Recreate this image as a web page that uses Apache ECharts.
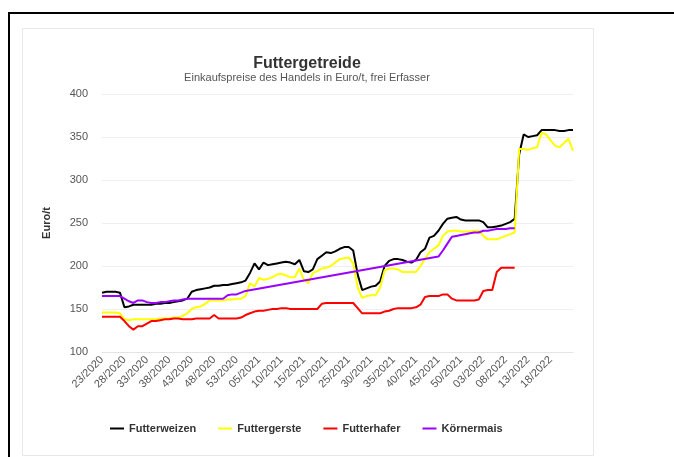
<!DOCTYPE html>
<html>
<head>
<meta charset="utf-8">
<script src="https://cdn.jsdelivr.net/npm/echarts@6/dist/echarts.min.js"></script>
<style>
html,body{margin:0;padding:0;background:#fff;}
#chart{width:674px;height:457px;}
</style>
</head>
<body>
<div id="chart"></div>
<script>
// Categories: calendar weeks 23/2020 .. 23/2022
var weeks = [];
(function(){
  function add(w, y){ weeks.push((w < 10 ? '0' + w : '' + w) + '/' + y); }
  for (var w = 23; w <= 53; w++) add(w, 2020);
  for (var w2 = 1; w2 <= 52; w2++) add(w2, 2021);
  for (var w3 = 1; w3 <= 23; w3++) add(w3, 2022);
})();

// Tick labels shown on the x axis
var xTickLabels = ['23/2020','28/2020','33/2020','38/2020','43/2020','48/2020','53/2020',
  '05/2021','10/2021','15/2021','20/2021','25/2021','30/2021','35/2021','40/2021','45/2021','50/2021',
  '03/2022','08/2022','13/2022','18/2022'];

var seriesNames = ['Futterweizen', 'Futtergerste', 'Futterhafer', 'Körnermais'];

var futterweizen = [169,170,170,170,169,152,153,155,155,155,155,155,156,156,157,157,158,159,160,162,
170,172,173,174,175,177,177,178,178,179,180,181,183,192,203,196,204,201,202,203,
204,205,204,202,207,194,193,196,208,212,216,215,217,220,222,222,218,190,172,174,
176,177,182,200,206,208,208,207,205,204,207,216,220,233,235,241,249,255,256,257,
254,253,253,253,253,251,245,245,246,247,249,251,255,330,353,350,351,352,358,358,
358,358,357,357,358,358];

var futtergerste = [146,146,146,146,145,138,137,138,138,138,138,138,138,139,139,139,140,140,142,145,
150,152,153,156,160,160,160,160,161,161,162,162,165,180,176,186,184,185,187,190,
191,189,187,187,197,184,180,192,194,197,198,200,204,208,209,210,203,175,163,165,
166,166,175,195,197,197,196,193,193,193,193,200,208,216,220,224,235,240,241,241,
240,240,240,241,241,235,231,231,231,233,235,237,239,336,336,335,337,338,355,353,
346,340,338,343,348,334];

var futterhafer = [141,141,141,141,141,136,130,126,130,130,133,136,136,137,138,138,139,139,138,138,
138,139,139,139,139,143,139,139,139,139,139,140,143,145,147,148,148,149,150,150,
151,151,150,150,150,150,150,150,150,156,157,157,157,157,157,157,157,151,145,145,
145,145,145,147,148,150,151,151,151,151,152,155,164,165,165,165,167,167,162,160,
160,160,160,160,161,171,172,172,193,198,198,198,198,null,null,null,null,null,null,null,
null,null,null,null,null,null];

var koernermais = [165,165,165,165,165,162,159,157,160,160,158,157,157,158,158,159,160,160,161,162,
162,162,162,162,162,162,162,162,166,167,167,169,171,null,null,null,null,null,null,null,
null,null,null,null,null,null,null,null,null,null,null,null,null,null,null,null,null,null,null,null,
null,null,null,null,null,null,null,null,null,null,null,null,null,null,null,211,218,226,234,235,
236,237,238,239,239,241,241,242,243,243,243,244,244,null,null,null,null,null,null,null,
null,null,null,null,null,null];

var yTicks = {min: 100, max: 400, interval: 50};
var colors = ['#000000', '#ffff00', '#ff0000', '#9900ff'];
var dataSets = [futterweizen, futtergerste, futterhafer, koernermais];
var FONT = 'Liberation Sans, Arial, sans-serif';

var chart = echarts.init(document.getElementById('chart'), null, {renderer: 'canvas'});
chart.setOption({
  animation: false,
  backgroundColor: '#ffffff',
  color: colors,
  graphic: [
    {type: 'line', shape: {x1: 8, y1: 13, x2: 674, y2: 13}, style: {stroke: '#000', lineWidth: 2}, z: 0},
    {type: 'line', shape: {x1: 9, y1: 12, x2: 9, y2: 457}, style: {stroke: '#000', lineWidth: 2}, z: 0},
    {type: 'rect', shape: {x: 22.5, y: 28.5, width: 571, height: 427}, style: {fill: 'none', stroke: '#e8e8e8', lineWidth: 1}, z: 0}
  ],
  title: {
    text: 'Futtergetreide',
    subtext: 'Einkaufspreise des Handels in Euro/t, frei Erfasser',
    left: 302,
    top: 51,
    textAlign: 'center',
    itemGap: 0,
    textStyle: {fontFamily: FONT, fontSize: 16, fontWeight: 'bold', color: '#333'},
    subtextStyle: {fontFamily: FONT, fontSize: 11, color: '#555'}
  },
  legend: {
    data: seriesNames,
    left: 105,
    top: 418,
    icon: 'rect',
    itemWidth: 14,
    itemHeight: 2,
    itemGap: 22,
    textStyle: {fontFamily: FONT, fontSize: 11, fontWeight: 'bold', color: '#333'}
  },
  grid: {left: 102, right: 101, top: 94, bottom: 105, containLabel: false},
  xAxis: {
    type: 'category',
    data: weeks,
    boundaryGap: false,
    axisLine: {show: true, lineStyle: {color: '#e4e4e4'}},
    axisTick: {show: false},
    splitLine: {show: false},
    axisLabel: {
      interval: function(idx, val){ return xTickLabels.indexOf(val) >= 0; },
      rotate: 45,
      margin: 6,
      fontSize: 11,
      color: '#555',
      fontFamily: FONT
    }
  },
  yAxis: {
    type: 'value',
    min: yTicks.min,
    max: yTicks.max,
    interval: yTicks.interval,
    name: 'Euro/t',
    nameLocation: 'middle',
    nameGap: 50,
    nameTextStyle: {fontFamily: FONT, fontSize: 11, color: '#333', fontWeight: 'bold'},
    axisLine: {show: false},
    axisTick: {show: false},
    axisLabel: {margin: 14, fontSize: 11, color: '#555', fontFamily: FONT},
    splitLine: {lineStyle: {color: '#efefef'}}
  },
  series: seriesNames.map(function(name, i){
    return {
      name: name,
      type: 'line',
      data: dataSets[i],
      showSymbol: false,
      symbol: 'none',
      connectNulls: true,
      lineStyle: {width: 2, color: colors[i]},
      itemStyle: {color: colors[i]}
    };
  })
});
</script>
</body>
</html>
